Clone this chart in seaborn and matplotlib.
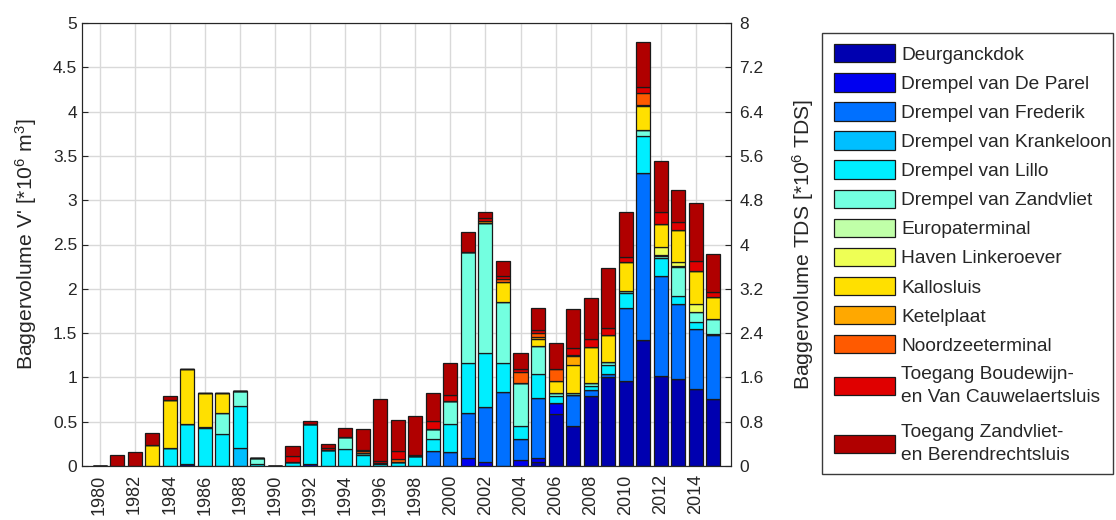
import numpy as np
import pandas as pd
import matplotlib
matplotlib.use("Agg")
import matplotlib.pyplot as plt
from matplotlib.patches import Patch, Rectangle
from matplotlib.ticker import FuncFormatter
import seaborn as sns

years = list(range(1980, 2016))

categories = [
    "Deurganckdok",
    "Drempel van De Parel",
    "Drempel van Frederik",
    "Drempel van Krankeloon",
    "Drempel van Lillo",
    "Drempel van Zandvliet",
    "Europaterminal",
    "Haven Linkeroever",
    "Kallosluis",
    "Ketelplaat",
    "Noordzeeterminal",
    "Toegang Boudewijn-\nen Van Cauwelaertsluis",
    "Toegang Zandvliet-\nen Berendrechtsluis",
]

colors = ["#0000B0", "#0000F0", "#0070FF", "#00BFFF", "#00EEFF", "#73FFE0",
          "#C0FFA8", "#EEFF55", "#FFE000", "#FFA800", "#FF5A00", "#E00000", "#B00000"]

# values in 10^6 m3, years 1980..2015 (rows: 1980s, 1990s, 2000s, 2010-2015)
deurganckdok = [0, 0, 0, 0, 0, 0.02, 0, 0, 0, 0,
                0, 0, 0, 0, 0, 0, 0, 0, 0, 0,
                0, 0, 0, 0, 0, 0.05, 0.587, 0.45, 0.79, 1.0,
                0.96, 1.42, 1.02, 0.978, 0.87, 0.753]
drempel_parel = [0, 0, 0, 0, 0, 0, 0, 0, 0, 0,
                 0, 0, 0.02, 0, 0, 0, 0, 0, 0, 0,
                 0, 0.09, 0.05, 0, 0.07, 0.037, 0.127, 0, 0, 0,
                 0, 0, 0, 0, 0, 0]
drempel_frederik = [0, 0, 0, 0, 0, 0, 0, 0, 0, 0,
                    0, 0, 0, 0, 0, 0, 0, 0, 0, 0.165,
                    0.155, 0.51, 0.62, 0.839, 0.23, 0.683, 0, 0.35, 0.068, 0.035,
                    0.82, 1.89, 1.124, 0.85, 0.676, 0.72]
drempel_krankeloon = [0, 0, 0, 0, 0, 0, 0, 0, 0.207, 0,
                      0, 0, 0, 0, 0, 0, 0, 0, 0, 0,
                      0, 0, 0, 0, 0, 0, 0, 0, 0, 0,
                      0, 0, 0, 0, 0, 0]
drempel_lillo = [0, 0, 0, 0, 0.20, 0.455, 0.425, 0.357, 0.473, 0.025,
                 0, 0.05, 0.45, 0.18, 0.19, 0.124, 0.02, 0.05, 0.11, 0.14,
                 0.315, 0.565, 0.61, 0.32, 0.15, 0.265, 0.076, 0, 0.05, 0.105,
                 0.17, 0.41, 0.20, 0.094, 0.074, 0.015]
drempel_zandvliet = [0, 0, 0, 0, 0, 0, 0.02, 0.243, 0.17, 0.06,
                     0, 0, 0, 0, 0.134, 0.02, 0.01, 0, 0, 0.11,
                     0.263, 1.255, 1.467, 0.696, 0.49, 0.32, 0.03, 0.027, 0.025, 0.03,
                     0.03, 0.07, 0.03, 0.32, 0.122, 0.175]
europaterminal = [0, 0, 0, 0, 0, 0, 0, 0, 0, 0,
                  0, 0, 0, 0, 0, 0, 0, 0, 0, 0,
                  0, 0, 0, 0, 0, 0, 0, 0, 0, 0,
                  0, 0, 0.01, 0.01, 0, 0]
haven_linkeroever = [0, 0, 0, 0, 0, 0, 0, 0, 0, 0,
                     0, 0, 0, 0, 0, 0, 0, 0, 0, 0,
                     0, 0, 0, 0, 0, 0, 0, 0, 0, 0,
                     0, 0, 0.09, 0.045, 0.083, 0]
kallosluis = [0, 0, 0, 0.24, 0.55, 0.615, 0.375, 0.22, 0, 0,
              0, 0, 0, 0, 0, 0, 0, 0, 0, 0,
              0, 0, 0, 0.225, 0, 0.076, 0.143, 0.31, 0.414, 0.31,
              0.326, 0.27, 0.26, 0.364, 0.38, 0.247]
ketelplaat = [0, 0, 0, 0, 0, 0, 0, 0, 0, 0,
              0, 0, 0, 0, 0, 0, 0, 0, 0, 0,
              0, 0, 0.02, 0, 0, 0.02, 0, 0.10, 0, 0,
              0, 0.01, 0, 0, 0, 0]
noordzeeterminal = [0, 0, 0, 0, 0, 0, 0, 0, 0, 0,
                    0, 0, 0, 0, 0, 0.02, 0, 0.03, 0, 0,
                    0, 0, 0, 0.027, 0.125, 0.055, 0.137, 0.02, 0, 0,
                    0, 0.135, 0, 0, 0, 0]
toegang_boudewijn = [0, 0, 0, 0, 0, 0, 0, 0, 0, 0,
                     0, 0.06, 0, 0.025, 0, 0.02, 0.025, 0.09, 0.015, 0.09,
                     0.067, 0, 0.03, 0.037, 0.035, 0.025, 0, 0.08, 0.083, 0.076,
                     0.054, 0.075, 0.13, 0.098, 0.11, 0.054]
toegang_zandvliet = [0, 0.125, 0.16, 0.135, 0.04, 0.01, 0, 0, 0, 0,
                     0, 0.116, 0.035, 0.045, 0.10, 0.236, 0.70, 0.345, 0.435, 0.315,
                     0.36, 0.225, 0.07, 0.173, 0.17, 0.25, 0.29, 0.44, 0.463, 0.676,
                     0.51, 0.50, 0.58, 0.357, 0.658, 0.426]

series = [deurganckdok, drempel_parel, drempel_frederik, drempel_krankeloon,
          drempel_lillo, drempel_zandvliet, europaterminal, haven_linkeroever,
          kallosluis, ketelplaat, noordzeeterminal, toegang_boudewijn, toegang_zandvliet]

rows = []
for cat, vals in zip(categories, series):
    for yr, v in zip(years, vals):
        rows.append((yr, cat, v))
df = pd.DataFrame(rows, columns=["jaar", "locatie", "volume"])

left_ticks = np.round(np.arange(0, 5.01, 0.5), 1)
right_ticks = np.round(np.arange(0, 8.01, 0.8), 1)
year_ticks = list(range(1980, 2015, 2))

sns.set_theme(style="white")
plt.rcParams["font.family"] = ["Liberation Sans", "DejaVu Sans"]
plt.rcParams["mathtext.default"] = "regular"

W, H = 1116, 520
fig = plt.figure(figsize=(W / 100, H / 100), dpi=100)
ax = fig.add_axes([82 / W, 1 - 466 / H, (731 - 82) / W, (466 - 23) / H])
ax.set_axisbelow(True)
ax.grid(True, color="#d9d9d9", linewidth=1.0)

palette = dict(zip(categories, colors))
sns.histplot(data=df, x="jaar", weights="volume", hue="locatie",
             hue_order=categories[::-1], palette=palette, multiple="stack",
             discrete=True, shrink=0.8, alpha=1, edgecolor="#1a1a1a",
             linewidth=0.9, legend=False, ax=ax)

dark = "#262626"
ax.set_xlim(1979, 2016)
ax.set_ylim(0, 5)
ax.set_xticks(year_ticks)
ax.set_xticklabels([str(y) for y in year_ticks], rotation=90)
ax.set_yticks(left_ticks)
ax.yaxis.set_major_formatter(FuncFormatter(lambda v, p: f"{v:g}"))
ax.set_xlabel("")
ax.set_ylabel("Baggervolume V' [*10$^6$ m$^3$]", fontsize=15.2, color=dark, labelpad=10)
ax.tick_params(axis="both", direction="in", length=4, color=dark, labelcolor=dark,
               labelsize=12.5, width=0.8)
ax.tick_params(axis="x", pad=6, labelsize=13)

ax2 = ax.twinx()
ax2.set_ylim(0, 8)
ax2.set_yticks(right_ticks)
ax2.yaxis.set_major_formatter(FuncFormatter(lambda v, p: f"{v:g}"))
ax2.set_ylabel("Baggervolume TDS [*10$^6$ TDS]", fontsize=15.2, color=dark, labelpad=19)
ax2.tick_params(axis="y", direction="in", length=4, color=dark, labelcolor=dark,
                labelsize=12.5, width=0.8, pad=6)
ax2.grid(False)

for a in (ax, ax2):
    for s in a.spines.values():
        s.set_color(dark)
        s.set_linewidth(0.8)
        s.set_visible(True)

handles = [Patch(facecolor=c, edgecolor="#1a1a1a", linewidth=0.9) for c in colors]
leg_kw = dict(loc="upper left", frameon=False, borderpad=0, borderaxespad=0,
              handlelength=3.2, handleheight=1.1, handletextpad=0.32,
              fontsize=13.8, labelcolor=dark)
leg1 = fig.legend(handles[:11], categories[:11], bbox_to_anchor=(834 / W, 1 - 44 / H),
                  labelspacing=0.49, **leg_kw)
leg2 = fig.legend(handles[11:], categories[11:], bbox_to_anchor=(834 / W, 1 - 366 / H),
                  labelspacing=0.94, **leg_kw)
for t in leg2.get_texts():
    t.set_linespacing(1.45)
fig.add_artist(Rectangle((822 / W, 1 - 474 / H), 291 / W, 441 / H,
                         transform=fig.transFigure, fill=False,
                         edgecolor="#3a3a3a", linewidth=1.0))

fig.savefig("out.png", dpi=100)
